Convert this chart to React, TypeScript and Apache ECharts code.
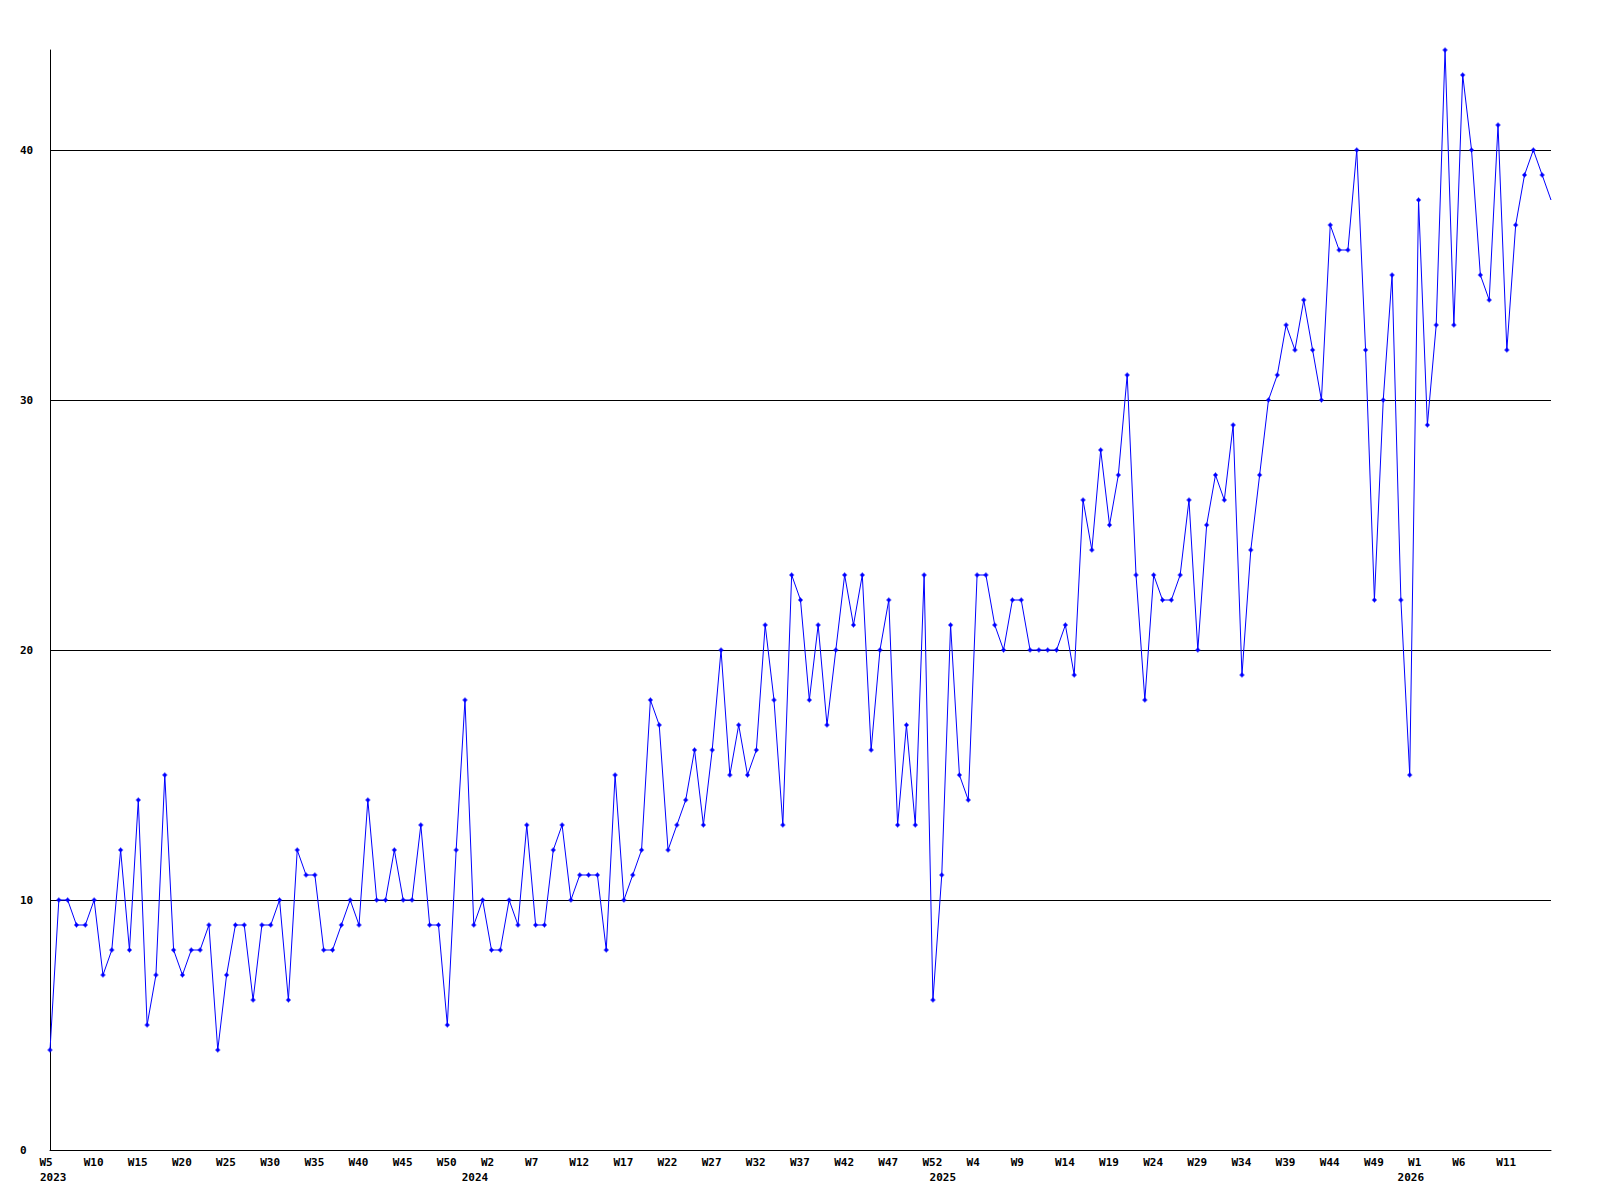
import React, { useEffect, useRef } from "react";
import * as echarts from "echarts";

// Weekly values, split by year
const values2023 = [4, 10, 10, 9, 9, 10, 7, 8, 12, 8, 14, 5, 7, 15, 8, 7, 8, 8, 9, 4, 7, 9, 9, 6, 9, 9, 10, 6, 12, 11, 11, 8, 8, 9, 10, 9, 14, 10, 10, 12, 10, 10, 13, 9, 9, 5, 12, 18, 9];
const values2024 = [10, 8, 8, 10, 9, 13, 9, 9, 12, 13, 10, 11, 11, 11, 8, 15, 10, 11, 12, 18, 17, 12, 13, 14, 16, 13, 16, 20, 15, 17, 15, 16, 21, 18, 13, 23, 22, 18, 21, 17, 20, 23, 21, 23, 16, 20, 22, 13, 17, 13, 23, 6, 11];
const values2025 = [21, 15, 14, 23, 23, 21, 20, 22, 22, 20, 20, 20, 20, 21, 19, 26, 24, 28, 25, 27, 31, 23, 18, 23, 22, 22, 23, 26, 20, 25, 27, 26, 29, 19, 24, 27, 30, 31, 33, 32, 34, 32, 30, 37, 36, 36, 40, 32, 22, 30, 35, 22, 15];
const values2026 = [38, 29, 33, 44, 33, 43, 40, 35, 34, 41, 32, 37, 39, 40, 39, 38];

// First week number of each year's block
const years = ["2023", "2024", "2025", "2026"];
const firstWeeks = [5, 1, 1, 1];
const yearValues = [values2023, values2024, values2025, values2026];
const yTicks = [0, 10, 20, 30, 40];

const weekLabels: string[] = [];
const weekYears: string[] = [];
yearValues.forEach((arr, yi) => {
  arr.forEach((_, k) => {
    weekLabels.push("W" + (firstWeeks[yi] + k));
    weekYears.push(years[yi]);
  });
});
const allValues: number[] = ([] as number[]).concat(...yearValues);

const FONT = "'DejaVu Sans Mono', monospace";
const labelText = {
  fontFamily: FONT,
  fontSize: 11,
  fontWeight: "bold",
  color: "#000",
  lineHeight: 15,
};

export default function App() {
  const ref = useRef<HTMLDivElement>(null);
  useEffect(() => {
    if (!ref.current) return;
    const chart = echarts.init(ref.current, undefined, { renderer: "svg" });
    const lastIdx = allValues.length - 1;
    const seriesData = allValues.map((v, i) =>
      i === lastIdx ? { value: v, symbol: "none" } : v
    );
    chart.setOption({
      animation: false,
      backgroundColor: "#ffffff",
      grid: { left: 50, right: 49, top: 50, bottom: 50, containLabel: false },
      xAxis: [
        {
          type: "category",
          data: weekLabels,
          boundaryGap: false,
          axisLine: { show: true, lineStyle: { color: "#000", width: 1 } },
          axisTick: { show: false },
          splitLine: { show: false },
          axisLabel: {
            interval: (index: number) => index % 5 === 0 && index < lastIdx,
            margin: 5,
            align: "center",
            formatter: (value: string) => "{w|" + value + "}",
            rich: { w: { ...labelText, width: 21, align: "left" } },
          },
        },
        {
          type: "category",
          data: weekLabels,
          boundaryGap: false,
          position: "bottom",
          gridIndex: 0,
          axisLine: { show: false },
          axisTick: { show: false },
          splitLine: { show: false },
          axisLabel: {
            interval: (index: number) => index === 0 || weekLabels[index] === "W1",
            margin: 20,
            align: "center",
            formatter: (_value: string, index: number) =>
              index === 0
                ? "{a|" + weekYears[index] + "}"
                : "{y|" + weekYears[index] + "}",
            rich: {
              a: { ...labelText, width: 20, align: "left" },
              y: { ...labelText, width: 42, align: "left" },
            },
          },
        },
      ],
      yAxis: {
        type: "value",
        min: 0,
        max: 44,
        interval: 10,
        axisLine: { show: true, lineStyle: { color: "#000", width: 1 } },
        axisTick: { show: false },
        splitLine: {
          show: true,
          showMaxLine: false,
          showMinLine: false,
          lineStyle: { color: "#000", width: 1 },
        },
        axisLabel: {
          margin: 30,
          align: "left",
          fontFamily: FONT,
          fontSize: 11,
          fontWeight: "bold",
          color: "#000",
          formatter: (v: number) => (yTicks.includes(v) ? String(v) : ""),
        },
      },
      series: [
        {
          type: "line",
          xAxisIndex: 0,
          data: seriesData,
          symbol: "path://M2 0H3V1H4V2H5V3H4V4H3V5H2V4H1V3H0V2H1V1H2Z",
          symbolSize: 5,
          showAllSymbol: true,
          lineStyle: { color: "#0000ff", width: 1 },
          itemStyle: { color: "#0000ff" },
          emphasis: { disabled: true },
        },
      ],
    });
    return () => chart.dispose();
  }, []);
  return (
    <div
      ref={ref}
      style={{ position: "absolute", left: 0, top: 0, width: 1600, height: 1200 }}
    />
  );
}
